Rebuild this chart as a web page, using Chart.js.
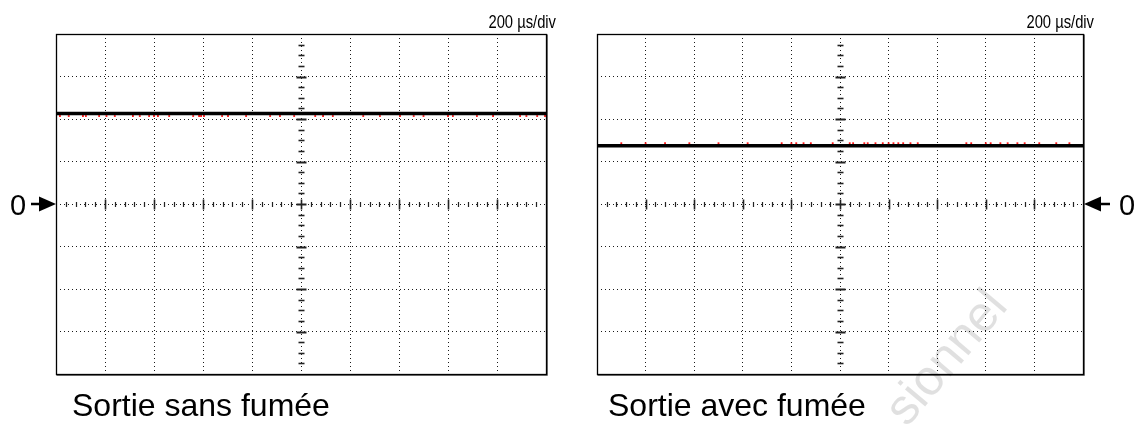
<!DOCTYPE html>
<html lang="fr">
<head>
<meta charset="utf-8">
<title>Sortie du capteur de fumée</title>
<script src="https://cdn.jsdelivr.net/npm/chart.js@4.4.1/dist/chart.umd.min.js"></script>
<style>
  html, body { margin: 0; padding: 0; background: #fff; }
  #wrap { position: relative; width: 1147px; height: 425px; overflow: hidden; }
  canvas { position: absolute; top: 0; }
  #scopeA { left: 0; }
  #scopeB { left: 573px; }
</style>
</head>
<body>
<div id="wrap">
  <canvas id="scopeA" width="573" height="425"></canvas>
  <canvas id="scopeB" width="574" height="425"></canvas>
</div>
<script>
// Screen divisions (time axis: 10 div, voltage axis: 8 div centred on 0)
const xDivisions = [0, 10];
const yDivisions = [-4, 4];
const timeBase = "200 µs/div";

// Panel captions
const captionA = "Sortie sans fumée";
const captionB = "Sortie avec fumée";

// Mean output level of each trace, in divisions above the 0 marker
const levelA = 2.13;
const levelB = 1.37;

// Sampled noise specks riding on each trace (time in div, offset from the level in div)
const noiseTimesA = [0.08, 0.26, 0.55, 0.61, 0.88, 1.03, 1.2, 1.57, 1.71, 1.9, 2.0, 2.08, 2.31, 2.8, 2.92, 2.96, 3.02, 3.39, 3.51, 3.88, 4.37, 4.57, 4.86, 5.29, 5.45, 5.65, 6.27, 6.61, 7.02, 7.3, 7.5, 8.0, 8.1, 8.59, 8.92, 9.47, 9.6, 9.82, 9.98];
const noiseOffsetA = -0.06;
const noiseTimesB = [0.5, 1.0, 1.4, 1.9, 2.5, 3.1, 3.8, 4.0, 4.1, 4.25, 4.4, 4.85, 5.2, 5.27, 5.5, 5.57, 5.73, 5.88, 6.0, 6.1, 6.2, 6.3, 6.45, 6.6, 7.6, 7.7, 8.0, 8.1, 8.3, 8.45, 8.65, 8.8, 9.1, 9.45, 9.72];
const noiseOffsetB = 0.06;

const FONT = "'Liberation Sans', Arial, Helvetica, sans-serif";

// Graticule extras: centre axes with sub-division ticks, frame, markers and captions
const scopeDecor = {
  id: 'scopeDecor',
  beforeDatasetsDraw(chart, args, opts) {
    const { ctx, scales: { x, y } } = chart;
    const cx = Math.round(x.getPixelForValue(5));
    const cy = Math.round(y.getPixelForValue(0));
    ctx.save();
    ctx.strokeStyle = '#222';
    // vertical centre axis: 4 sub-divisions per div
    for (let v = yDivisions[0] + 0.25; v < yDivisions[1] - 1e-9; v += 0.25) {
      const py = Math.round(y.getPixelForValue(v)) + 0.5;
      const major = Math.abs(v - Math.round(v)) < 1e-6;
      const half = major ? 5 : 3;
      ctx.lineWidth = major ? 2 : 1.6;
      ctx.beginPath();
      ctx.moveTo(cx - half + 0.5, py);
      ctx.lineTo(cx + half + 0.5, py);
      ctx.stroke();
    }
    // horizontal centre axis: 5 sub-divisions per div
    for (let t = xDivisions[0] + 0.2; t < xDivisions[1] - 1e-9; t += 0.2) {
      const px = Math.round(x.getPixelForValue(t)) + 0.5;
      const major = Math.abs(t - Math.round(t)) < 1e-6;
      const half = major ? 5 : 2.5;
      ctx.lineWidth = major ? 1.6 : 1.2;
      ctx.beginPath();
      ctx.moveTo(px, cy - half + 0.5);
      ctx.lineTo(px, cy + half + 0.5);
      ctx.stroke();
    }
    ctx.restore();
  },
  afterDraw(chart, args, opts) {
    const { ctx, chartArea: a, scales: { y } } = chart;
    const cy = y.getPixelForValue(0);
    ctx.save();
    // frame with a soft shadow on the right and bottom edges
    ctx.strokeStyle = '#777';
    ctx.lineWidth = 1;
    ctx.beginPath();
    ctx.moveTo(a.left + 0.5, a.bottom + 1.5);
    ctx.lineTo(a.right + 1.5, a.bottom + 1.5);
    ctx.lineTo(a.right + 1.5, a.top + 0.5);
    ctx.stroke();
    ctx.strokeStyle = '#000';
    ctx.lineWidth = 1.3;
    ctx.strokeRect(a.left + 0.5, a.top + 0.5, a.right - a.left, a.bottom - a.top);

    // time base (narrow lettering)
    ctx.fillStyle = '#000';
    ctx.save();
    ctx.translate(a.right + opts.timeBaseShift, 28);
    ctx.scale(0.82, 1);
    ctx.font = '18px ' + FONT;
    ctx.textAlign = 'right';
    ctx.textBaseline = 'alphabetic';
    ctx.fillText(timeBase, 0, 0);
    ctx.restore();

    // 0 V marker with arrow pointing at the frame
    ctx.font = '29px ' + FONT;
    ctx.textAlign = 'left';
    ctx.textBaseline = 'alphabetic';
    if (opts.markerSide === 'left') {
      const tip = a.left;
      ctx.fillText('0', 10, cy + 10.5);
      ctx.lineWidth = 2.5;
      ctx.beginPath();
      ctx.moveTo(tip - 25, cy);
      ctx.lineTo(tip - 12, cy);
      ctx.stroke();
      ctx.beginPath();
      ctx.moveTo(tip, cy);
      ctx.lineTo(tip - 17, cy - 7.5);
      ctx.lineTo(tip - 17, cy + 7.5);
      ctx.closePath();
      ctx.fill();
    } else {
      const tip = a.right + 1;
      ctx.fillText('0', tip + 35, cy + 11);
      ctx.lineWidth = 2.5;
      ctx.beginPath();
      ctx.moveTo(tip + 12, cy);
      ctx.lineTo(tip + 26, cy);
      ctx.stroke();
      ctx.beginPath();
      ctx.moveTo(tip, cy);
      ctx.lineTo(tip + 17, cy - 7.5);
      ctx.lineTo(tip + 17, cy + 7.5);
      ctx.closePath();
      ctx.fill();
    }

    // caption
    ctx.font = '32px ' + FONT;
    ctx.fillText(opts.caption, a.left + opts.captionShift, 416);

    // faint stamp across the lower right corner
    if (opts.stamp) {
      ctx.save();
      ctx.translate(a.right - 176, 428);
      ctx.rotate(-0.87);
      ctx.fillStyle = 'rgba(0,0,0,0.12)';
      ctx.font = '50px ' + FONT;
      ctx.fillText(opts.stamp, 0, 0);
      ctx.restore();
    }
    ctx.restore();
  }
};

function makeScope(canvasId, level, noiseTimes, noiseOffset, padding, decor) {
  const hideSize = (s) => { if (s.isHorizontal()) s.height = 0; else s.width = 0; };
  return new Chart(document.getElementById(canvasId), {
    type: 'line',
    data: {
      datasets: [
        {
          label: 'sortie',
          data: [{ x: xDivisions[0], y: level }, { x: xDivisions[1], y: level }],
          borderColor: '#000',
          borderWidth: 3.6,
          pointRadius: 0,
          order: 1
        },
        {
          label: 'bruit',
          data: noiseTimes.map(t => ({ x: t, y: level + noiseOffset })),
          showLine: false,
          pointStyle: 'rect',
          pointRadius: 1.3,
          pointBorderWidth: 0,
          backgroundColor: '#ff1a1a',
          borderColor: '#ff1a1a',
          order: 2
        }
      ]
    },
    options: {
      responsive: false,
      animation: false,
      devicePixelRatio: 1,
      layout: { padding },
      plugins: {
        legend: { display: false },
        tooltip: { enabled: false },
        scopeDecor: decor
      },
      scales: {
        x: {
          type: 'linear',
          min: xDivisions[0], max: xDivisions[1],
          ticks: { stepSize: 1, display: false },
          grid: { color: '#1a1a1a', lineWidth: 1, drawTicks: false },
          border: { display: false, dash: [1, 3] },
          afterFit: hideSize
        },
        y: {
          type: 'linear',
          min: yDivisions[0], max: yDivisions[1],
          ticks: { stepSize: 1, display: false },
          grid: { color: '#1a1a1a', lineWidth: 1, drawTicks: false },
          border: { display: false, dash: [1, 3] },
          afterFit: hideSize
        }
      }
    },
    plugins: [scopeDecor]
  });
}

makeScope('scopeA', levelA, noiseTimesA, noiseOffsetA,
  { left: 56, top: 34, right: 27, bottom: 51 },
  { markerSide: 'left', caption: captionA, captionShift: 16, timeBaseShift: 10 });

makeScope('scopeB', levelB, noiseTimesB, noiseOffsetB,
  { left: 24, top: 34, right: 64, bottom: 51 },
  { markerSide: 'right', caption: captionB, captionShift: 11, timeBaseShift: 11, stamp: 'sionnel' });
</script>
</body>
</html>
